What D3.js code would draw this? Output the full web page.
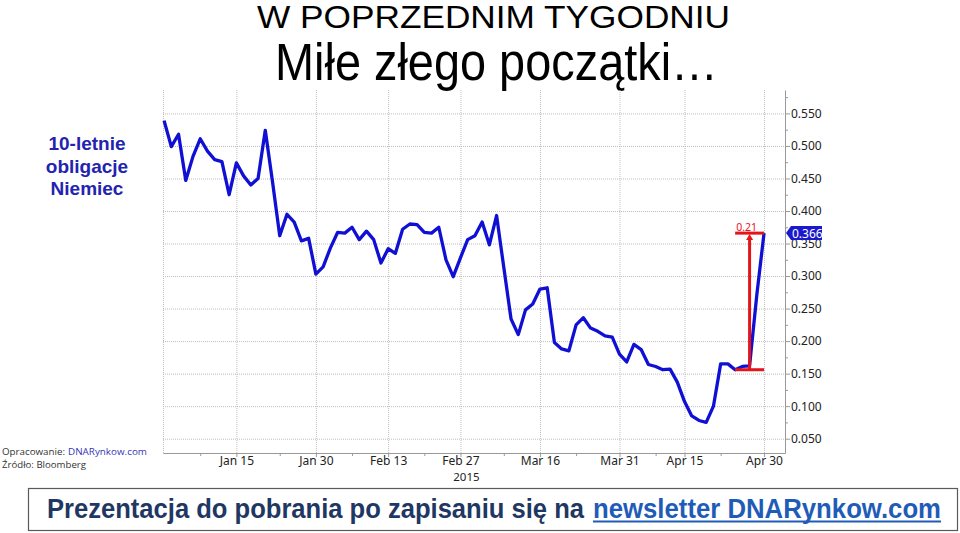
<!DOCTYPE html>
<html><head><meta charset="utf-8">
<script src="https://cdn.jsdelivr.net/npm/d3@7"></script>
<style>html,body{margin:0;padding:0;background:#fff;}svg{display:block;}</style>
</head><body>
<svg id="c" width="960" height="533"></svg>
<script>
// Data: German 10Y Bund yield, daily trading days (index 0 = end Dec 2014 ... index 83 = Apr 30 2015)
const values = [0.539,0.499,0.518,0.447,0.484,0.511,0.492,0.479,0.476,0.425,
0.474,0.454,0.440,0.450,0.524,0.445,0.362,0.395,0.383,0.354,
0.358,0.303,0.314,0.343,0.367,0.366,0.375,0.356,0.369,0.356,
0.320,0.342,0.335,0.372,0.380,0.379,0.367,0.366,0.375,0.325,
0.299,0.328,0.356,0.362,0.383,0.348,0.393,0.313,0.234,0.210,
0.248,0.257,0.280,0.282,0.198,0.188,0.185,0.225,0.236,0.220,
0.215,0.208,0.206,0.180,0.168,0.195,0.187,0.164,0.161,0.156,
0.157,0.137,0.107,0.085,0.078,0.075,0.100,0.165,0.165,0.156,
0.161,0.162,0.271,0.366];
const tickIdx = [10,21,31,41,52,63,72,83];
const tickLabels = ["Jan 15","Jan 30","Feb 13","Feb 27","Mar 16","Mar 31","Apr 15","Apr 30"];
const minorIdx = [5,16,26,36,47,57,68,77];
const yTicks = [0.05,0.10,0.15,0.20,0.25,0.30,0.35,0.40,0.45,0.50,0.55];
const yMinor = [0.075,0.125,0.175,0.225,0.275,0.325,0.375,0.425,0.475,0.525,0.575];
const lastValue = 0.366;
const lowValue = 0.156;
const changeLabel = "0.21";
const spanIdx = [79, 83];
const arrowIdx = 81;

const svg = d3.select("#c");
const x = d3.scaleLinear().domain([-0.15, 85.9]).range([163, 785]);
const y = d3.scaleLinear().domain([0.028, 0.586]).range([453, 90]);

svg.append("rect").attr("width",960).attr("height",533).attr("fill","#fff");

// titles
svg.append("text").attr("x",257).attr("y",28).attr("textLength",473).attr("lengthAdjust","spacingAndGlyphs")
  .attr("font-family","'Liberation Sans', Arial, sans-serif").attr("font-size",31).attr("fill","#000")
  .text("W POPRZEDNIM TYGODNIU");
svg.append("text").attr("x",275).attr("y",80).attr("textLength",443).attr("lengthAdjust","spacingAndGlyphs")
  .attr("font-family","'Liberation Sans', Arial, sans-serif").attr("font-size",51).attr("fill","#000")
  .text("Miłe złego początki…");

// left label
["10-letnie","obligacje","Niemiec"].forEach((t,i)=>{
  svg.append("text").attr("x",87).attr("y",150+i*22.5).attr("text-anchor","middle")
    .attr("font-family","'Liberation Sans', Arial, sans-serif").attr("font-weight","bold")
    .attr("font-size",19).attr("fill","#2323b0").text(t);
});

// source
svg.append("text").attr("x",2).attr("y",455).attr("textLength",63).attr("lengthAdjust","spacingAndGlyphs")
  .attr("font-family","'Open Sans', sans-serif").attr("font-size",9.5).attr("fill","#333").text("Opracowanie:");
svg.append("text").attr("x",68).attr("y",455).attr("textLength",79).attr("lengthAdjust","spacingAndGlyphs")
  .attr("font-family","'Open Sans', sans-serif").attr("font-size",9.5).attr("fill","#3535b5").text("DNARynkow.com");
svg.append("text").attr("x",2).attr("y",467.5).attr("textLength",84).attr("lengthAdjust","spacingAndGlyphs")
  .attr("font-family","'Open Sans', sans-serif").attr("font-size",9.5).attr("fill","#333").text("Źródło: Bloomberg");

// grid
const g = svg.append("g");
g.selectAll("line.h").data(yTicks).join("line")
  .attr("x1",163).attr("x2",785).attr("y1",d=>y(d)+0.5).attr("y2",d=>y(d)+0.5)
  .attr("stroke","#bdbdbd").attr("stroke-dasharray","1,1");
g.selectAll("line.v").data([-0.15].concat(tickIdx)).join("line")
  .attr("x1",d=>x(d)+0.5).attr("x2",d=>x(d)+0.5).attr("y1",90).attr("y2",453)
  .attr("stroke","#bdbdbd").attr("stroke-dasharray","1,1");

// x axis
const xa = svg.append("g").attr("transform","translate(0,453)")
  .call(d3.axisBottom(x).tickValues(tickIdx).tickFormat((d,i)=>tickLabels[i]).tickSize(4).tickSizeOuter(0));
xa.select(".domain").attr("stroke","#999");
xa.selectAll(".tick line").attr("stroke","#999");
xa.selectAll("text").attr("y",12).attr("dy","0").attr("font-family","'Noto Sans', sans-serif").attr("font-size",12).attr("fill","#222");
svg.append("g").attr("transform","translate(0,453)")
  .call(d3.axisBottom(x).tickValues(minorIdx).tickFormat("").tickSize(3).tickSizeOuter(0))
  .call(s=>{s.select(".domain").remove(); s.selectAll("line").attr("stroke","#999");});
svg.append("text").attr("x",x(41)+6).attr("y",480.5).attr("text-anchor","middle")
  .attr("font-family","'Noto Sans', sans-serif").attr("font-size",11.5).attr("fill","#222").text("2015");

// y axis
const ya = svg.append("g").attr("transform","translate(785,0)")
  .call(d3.axisRight(y).tickValues(yTicks).tickFormat(d3.format(".3f")).tickSize(5).tickSizeOuter(0));
ya.select(".domain").attr("stroke","#999");
ya.selectAll(".tick line").attr("stroke","#999");
ya.selectAll("text").attr("x",6).attr("font-family","'Noto Sans', sans-serif").attr("font-size",12).attr("fill","#222");
svg.append("g").attr("transform","translate(785,0)")
  .call(d3.axisRight(y).tickValues(yMinor).tickFormat("").tickSize(3).tickSizeOuter(0))
  .call(s=>{s.select(".domain").remove(); s.selectAll("line").attr("stroke","#999");});

// line
svg.append("path").datum(values)
  .attr("d", d3.line().x((d,i)=>x(i)).y(d=>y(d)))
  .attr("fill","none").attr("stroke","#1010d4").attr("stroke-width",3.3).attr("stroke-linejoin","round");

// red annotation
const red = "#e4141a";
svg.append("line").attr("x1",x(spanIdx[0])).attr("x2",x(spanIdx[1])).attr("y1",y(lastValue)).attr("y2",y(lastValue))
  .attr("stroke",red).attr("stroke-width",3);
svg.append("line").attr("x1",x(spanIdx[0])).attr("x2",x(spanIdx[1])).attr("y1",y(lowValue)).attr("y2",y(lowValue))
  .attr("stroke",red).attr("stroke-width",3);
svg.append("line").attr("x1",x(arrowIdx)).attr("x2",x(arrowIdx)).attr("y1",y(lowValue)).attr("y2",y(lastValue)+5)
  .attr("stroke",red).attr("stroke-width",3);
const ax = x(arrowIdx), ay = y(lastValue);
svg.append("path").attr("d",`M${ax-3.5},${ay+7}L${ax},${ay+1}L${ax+3.5},${ay+7}Z`).attr("fill",red);
svg.append("text").attr("x",x(arrowIdx)-3).attr("y",y(lastValue)-2).attr("text-anchor","middle")
  .attr("font-family","'Noto Sans', sans-serif").attr("font-size",10.5).attr("fill",red).text(changeLabel);

// last value tag
const ty = y(lastValue);
svg.append("path").attr("d",`M786,${ty}L791,${ty-7}L822,${ty-7}L822,${ty+7}L791,${ty+7}Z`).attr("fill","#1a1acc");
svg.append("text").attr("x",792).attr("y",ty+4.5).attr("font-family","'Noto Sans', sans-serif")
  .attr("font-size",12).attr("fill","#fff").text(d3.format(".3f")(lastValue));

// bottom banner
svg.append("rect").attr("x",28.5).attr("y",488.5).attr("width",929).attr("height",42)
  .attr("fill","#fff").attr("stroke","#5a5a5a").attr("stroke-width",1.2);
svg.append("text").attr("x",47).attr("y",518).attr("textLength",537).attr("lengthAdjust","spacingAndGlyphs")
  .attr("font-family","'Liberation Sans', Arial, sans-serif").attr("font-weight","bold").attr("font-size",27)
  .attr("fill","#1f3763").text("Prezentacja do pobrania po zapisaniu się na");
svg.append("text").attr("x",593).attr("y",518).attr("textLength",348).attr("lengthAdjust","spacingAndGlyphs")
  .attr("font-family","'Liberation Sans', Arial, sans-serif").attr("font-weight","bold").attr("font-size",27)
  .attr("fill","#1f5cb8").text("newsletter DNARynkow.com");
svg.append("line").attr("x1",593).attr("x2",941).attr("y1",521.5).attr("y2",521.5).attr("stroke","#1f5cb8").attr("stroke-width",2);
</script>
</body></html>
